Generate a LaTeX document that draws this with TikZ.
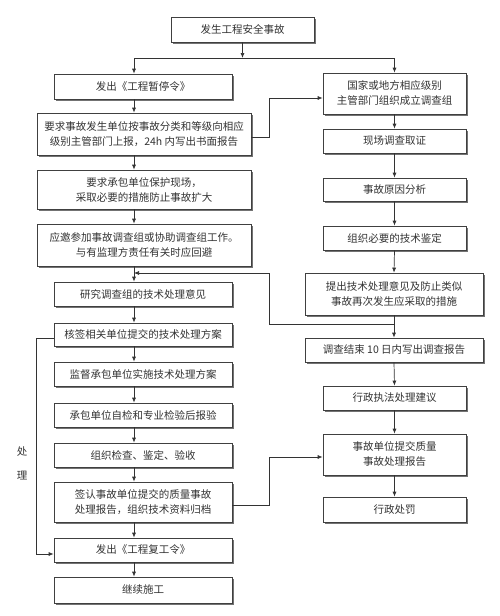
\documentclass[tikz,border=0pt]{standalone}
\usepackage{fontspec}
\setmainfont{Noto Sans CJK SC}
\usetikzlibrary{shadows,arrows.meta}
\tikzset{
 box/.style={draw=black!75, line width=0.7pt, fill=white, align=center,
   font=\fontsize{10.5}{15}\selectfont, text=black!80, inner sep=1pt,
   drop shadow={shadow xshift=1.6pt, shadow yshift=-1.6pt, fill=black!55, opacity=1}},
 arr/.style={draw=black!80, line width=0.7pt, -{Latex[length=5pt,width=4pt]}},
 ln/.style={draw=black!80, line width=0.7pt},
 side/.style={font=\fontsize{10.5}{12}\selectfont, text=black!80, inner sep=0pt}
}
\begin{document}
\begin{tikzpicture}[x=1pt,y=-1pt]
\fill[white] (0,0) rectangle (499,616);
\useasboundingbox (0,0) rectangle (499,616);
% top
\node[box, minimum width=143pt, minimum height=25pt] (top) at (242.5,29.5) {发生工程安全事故};
% left column
\node[box, minimum width=178pt, minimum height=25pt] (stop) at (143,86.5) {发出《工程暂停令》};
\node[box, minimum width=214pt, minimum height=42pt] (report) at (144,134) {要求事故发生单位按事故分类和等级向相应\\级别主管部门上报，24h 内写出书面报告};
\node[box, minimum width=214pt, minimum height=39pt] (protect) at (144,189.5) {要求承包单位保护现场，\\采取必要的措施防止事故扩大};
\node[box, minimum width=214pt, minimum height=42pt] (invite) at (144,245) {应邀参加事故调查组或协助调查组工作。\\与有监理方责任有关时应回避};
\node[box, minimum width=178pt, minimum height=24pt] (study) at (143,294) {研究调查组的技术处理意见};
\node[box, minimum width=178pt, minimum height=23pt] (sign) at (143,334.5) {核签相关单位提交的技术处理方案};
\node[box, minimum width=178pt, minimum height=24pt] (supervise) at (143,374) {监督承包单位实施技术处理方案};
\node[box, minimum width=178pt, minimum height=24pt] (selfcheck) at (143,415) {承包单位自检和专业检验后报验};
\node[box, minimum width=178pt, minimum height=24pt] (inspect) at (143,455) {组织检查、鉴定、验收};
\node[box, minimum width=178pt, minimum height=40pt] (confirm) at (143,502) {签认事故单位提交的质量事故\\处理报告，组织技术资料归档};
\node[box, minimum width=178pt, minimum height=24pt] (resume) at (143,550) {发出《工程复工令》};
\node[box, minimum width=178pt, minimum height=26pt] (cont) at (143,590) {继续施工};
% right column
\node[box, minimum width=143pt, minimum height=41pt] (group) at (394.5,93.5) {国家或地方相应级别\\主管部门组织成立调查组};
\node[box, minimum width=143pt, minimum height=24pt] (scene) at (394.5,141) {现场调查取证};
\node[box, minimum width=143pt, minimum height=23pt] (cause) at (394.5,189.5) {事故原因分析};
\node[box, minimum width=143pt, minimum height=24pt] (appraise) at (394.5,238) {组织必要的技术鉴定};
\node[box, minimum width=178pt, minimum height=42pt] (propose) at (394,294) {提出技术处理意见及防止类似\\事故再次发生应采取的措施};
\node[box, minimum width=178pt, minimum height=24pt] (report10) at (394,350) {调查结束 10 日内写出调查报告};
\node[box, minimum width=143pt, minimum height=24pt] (admin) at (394.5,398) {行政执法处理建议};
\node[box, minimum width=143pt, minimum height=41pt] (qreport) at (394.5,454.5) {事故单位提交质量\\事故处理报告};
\node[box, minimum width=143pt, minimum height=25pt] (penalty) at (394.5,509.5) {行政处罚};
% side label
\node[side] (lblA) at (22,452) {处};
\node[side] (lblB) at (22,476) {理};
% coordinates
\coordinate (L) at (134,0);
\coordinate (M) at (269,0);
\coordinate (J) at (242.5,58);
\coordinate (B) at (394.5,324);
\coordinate (T) at (269,273);
\coordinate (P1) at ([yshift=-3pt]report.east);
\coordinate (P2) at ([yshift=-3pt]confirm.east);
% top connectors
\draw[arr] (top.south) -- (J);
\draw[arr] (J) -| (stop.north -| L);
\draw[arr] (J) -| (group.north);
% left column
\draw[arr] (stop.south -| L) -- (report.north -| L);
\draw[arr] (report.south -| L) -- (protect.north -| L);
\draw[arr] (protect.south -| L) -- (invite.north -| L);
\draw[arr] (invite.south -| L) -- (study.north -| L);
\draw[arr] (study.south -| L) -- (sign.north -| L);
\draw[arr] (sign.south -| L) -- (supervise.north -| L);
\draw[arr] (supervise.south -| L) -- (selfcheck.north -| L);
\draw[arr] (selfcheck.south -| L) -- (inspect.north -| L);
\draw[arr] (inspect.south -| L) -- (confirm.north -| L);
\draw[arr] (confirm.south -| L) -- (resume.north -| L);
\draw[arr] (resume.south -| L) -- (cont.north -| L);
% right column
\draw[arr] (group.south) -- (scene.north);
\draw[arr] (scene.south) -- (cause.north);
\draw[arr] (cause.south) -- (appraise.north);
\draw[arr] (appraise.south) -- (propose.north);
\draw[arr] (propose.south) -- (report10.north);
\draw[arr] (report10.south) -- (admin.north);
\draw[arr] (admin.south) -- (qreport.north);
\draw[arr] (qreport.south) -- (penalty.north);
% cross links
\draw[arr] (P1) -- (P1 -| M) |- ([yshift=-4.5pt]group.west);
\draw[arr] (B) -| (T) -- (T -| L);
\draw[arr] ([yshift=-3.5pt]sign.west) -- ++(-17,0) |- ([yshift=-4pt]resume.west);
\draw[arr] (P2) -- (P2 -| M) |- ([yshift=-2.5pt]qreport.west);
\end{tikzpicture}
\end{document}
